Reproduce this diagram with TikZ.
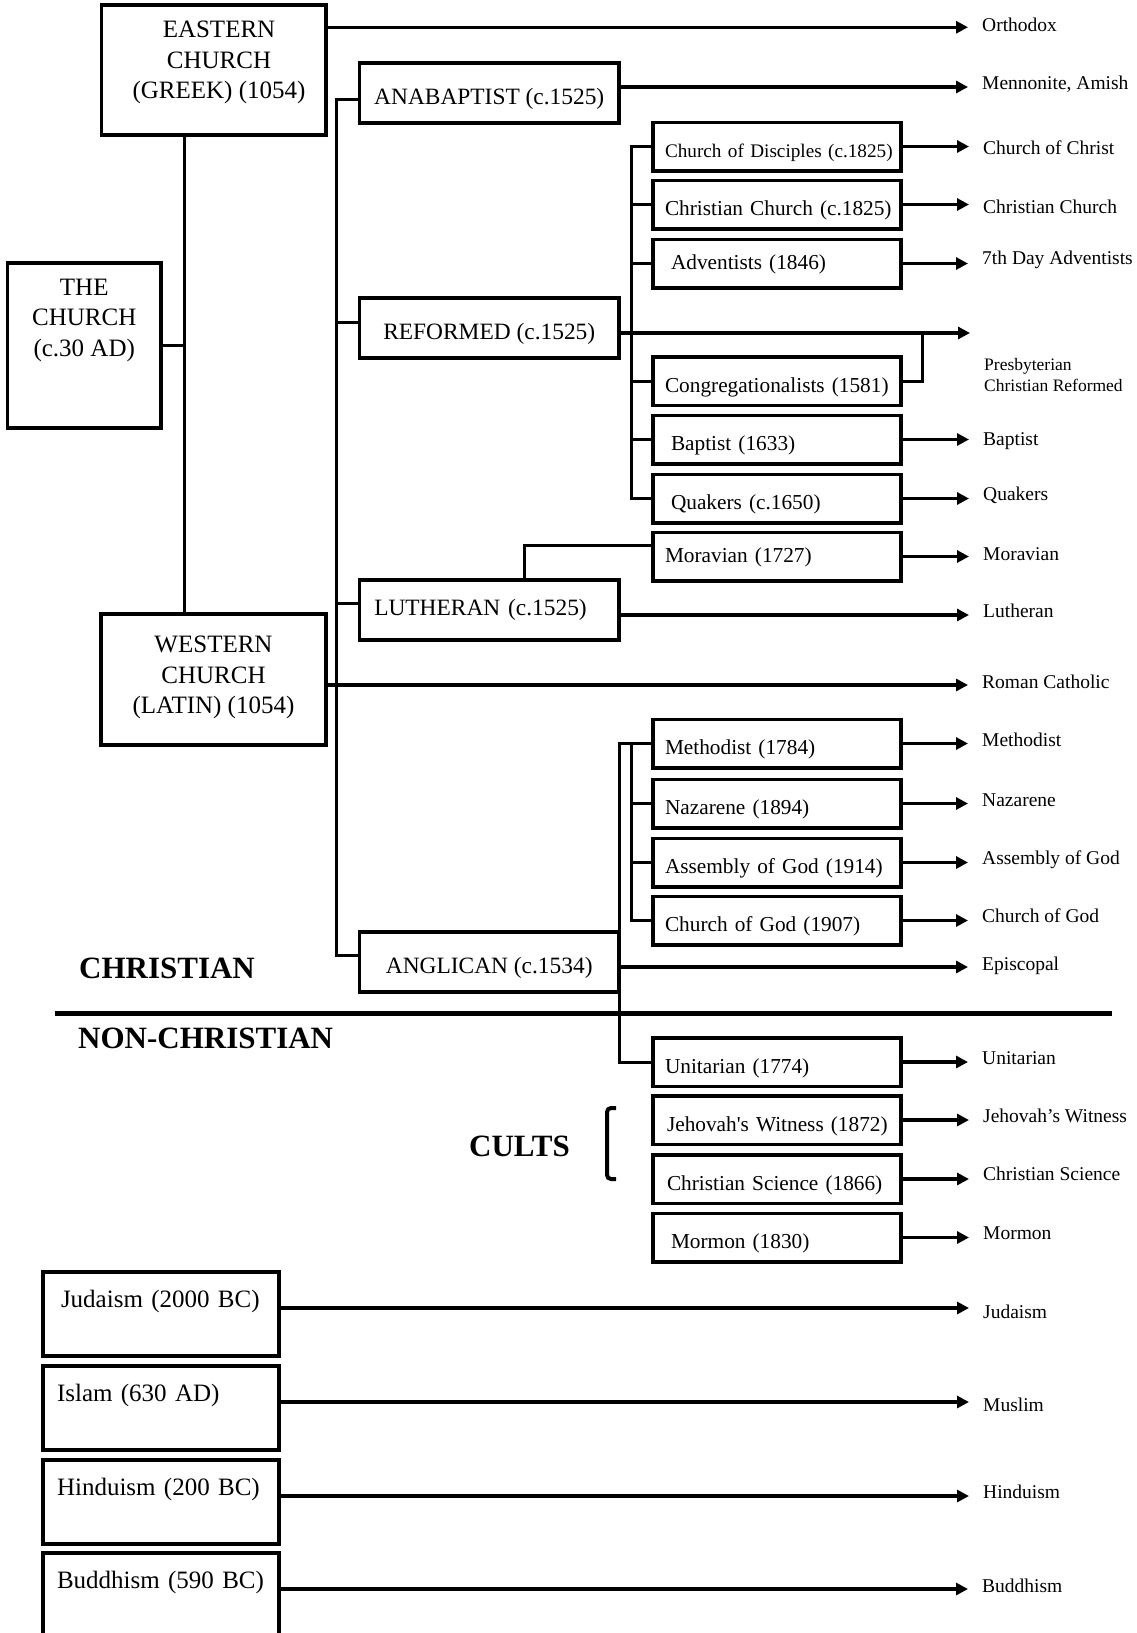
\documentclass[tikz,border=0pt]{standalone}
\usepackage{fontspec}
\setmainfont{Liberation Serif}
\usetikzlibrary{arrows.meta}

\begin{document}
\begin{tikzpicture}[x=1pt, y=-1pt,
box/.style={draw, line width=3.5pt, inner sep=0pt},
bigbox/.style={box, minimum width=225pt, minimum height=130pt},
bigtext/.style={align=center, inner sep=0pt, font=\fontsize{25}{30.5}\selectfont},
midbox/.style={box, minimum width=259.5pt, minimum height=60pt, text height=25.5pt, text depth=2pt, font=\fontsize{23.4}{28}\selectfont},
smallbox/.style={box, minimum width=248pt, minimum height=48.5pt, text width=224pt, align=left, text height=24pt, text depth=2pt, font=\fontsize{21.3}{25}\selectfont},
raised/.style={text height=14pt},
indented/.style={text width=212pt},
faithbox/.style={box, minimum width=236pt, minimum height=84pt, text width=208pt, align=left, text height=17pt, text depth=30pt, font=\fontsize{25}{30}\selectfont},
dest/.style={anchor=west, inner sep=0pt, text height=13pt, text depth=0pt, font=\fontsize{19.5}{23}\selectfont},
heading/.style={anchor=west, inner sep=0pt, text height=21pt, text depth=0pt, font=\fontsize{31}{36}\selectfont\bfseries},
tree/.style={line width=3pt},
arr/.style={line width=3.5pt, -{Triangle[length=12pt, width=12pt]}, shorten >=14pt}]%
\useasboundingbox (0,0) rectangle (1136,1633);%
\node[box, minimum width=153.5pt, minimum height=165pt] (church) at (84.25, 345.5) {};%
\node[bigtext] (churchtxt) at (84.25, 320) {THE\\CHURCH\\(c.30 AD)};%
\node[bigbox, minimum width=224.5pt] (east) at (213.75, 70) {};%
\node[bigtext] (easttxt) at (219, 62.5) {EASTERN\\CHURCH\\(GREEK) (1054)};%
\node[bigbox, minimum height=131pt] (west) at (213.5, 679.5) {};%
\node[bigtext] (westtxt) at (213.5, 677.5) {WESTERN\\CHURCH\\(LATIN) (1054)};%
\node[midbox] (anab) at (489.25, 93) {ANABAPTIST (c.1525)};%
\node[midbox] (ref) at (489.25, 328) {REFORMED (c.1525)};%
\node[midbox, text height=13.5pt, text width=230pt, align=left] (luth) at (489.25, 610) {LUTHERAN (c.1525)};%
\node[midbox] (angl) at (489.25, 962) {ANGLICAN (c.1534)};%
\node[smallbox, font=\fontsize{19.2}{23}\selectfont] (cod) at (777, 146.5) {\mbox{Church of Disciples (c.1825)}};%
\node[smallbox] (cc) at (777, 204.5) {\mbox{Christian Church (c.1825)}};%
\node[smallbox, indented, raised] (adv) at (777, 263.5) {Adventists (1846)};%
\node[smallbox] (cong) at (777, 381) {\mbox{Congregationalists (1581)}};%
\node[smallbox, indented] (bap) at (777, 439.5) {Baptist (1633)};%
\node[smallbox, indented] (quak) at (777, 498.5) {Quakers (c.1650)};%
\node[smallbox, raised] (morav) at (777, 556.5) {Moravian (1727)};%
\node[smallbox] (meth) at (777, 743.5) {Methodist (1784)};%
\node[smallbox] (naz) at (777, 803.5) {Nazarene (1894)};%
\node[smallbox] (asm) at (777, 862.5) {Assembly of God (1914)};%
\node[smallbox] (cog) at (777, 920.5) {Church of God (1907)};%
\node[smallbox] (unit) at (777, 1062) {Unitarian (1774)};%
\node[smallbox, text width=220pt] (jw) at (777, 1120) {\mbox{Jehovah\textquotesingle s Witness (1872)}};%
\node[smallbox, text width=220pt] (cs) at (777, 1179) {Christian Science (1866)};%
\node[smallbox, indented] (mor) at (777, 1237.5) {Mormon (1830)};%
\node[faithbox, text width=200pt] (jud) at (161, 1314) {Judaism (2000 BC)};%
\node[faithbox] (isl) at (161, 1408) {Islam (630 AD)};%
\node[faithbox] (hin) at (161, 1502) {Hinduism (200 BC)};%
\node[faithbox] (bud) at (161, 1595) {Buddhism (590 BC)};%
\node[dest] (orth) at (982, 25) {Orthodox};%
\node[dest] (menn) at (982, 83) {Mennonite, Amish};%
\node[dest] (cofc) at (983, 148) {Church of Christ};%
\node[dest] (ccl) at (983, 207) {Christian Church};%
\node[dest] (sda) at (982, 258) {7th Day Adventists};%
\node[anchor=west, inner sep=0pt, align=left, font=\fontsize{17.5}{20.5}\selectfont] (presb) at (984, 375) {Presbyterian\\Christian Reformed};%
\node[dest] (bapl) at (983, 439) {Baptist};%
\node[dest] (quakl) at (983, 494) {Quakers};%
\node[dest] (moravl) at (983, 554) {Moravian};%
\node[dest] (luthl) at (983, 611) {Lutheran};%
\node[dest] (rc) at (982, 682) {Roman Catholic};%
\node[dest] (methl) at (982, 740) {Methodist};%
\node[dest] (nazl) at (982, 800) {Nazarene};%
\node[dest] (asml) at (982, 858) {Assembly of God};%
\node[dest] (cogl) at (982, 916) {Church of God};%
\node[dest] (epis) at (982, 964) {Episcopal};%
\node[dest] (unitl) at (982, 1058) {Unitarian};%
\node[dest] (jwl) at (983, 1116) {Jehovah’s Witness};%
\node[dest] (csl) at (983, 1174) {Christian Science};%
\node[dest] (morl) at (983, 1233) {Mormon};%
\node[dest] (judl) at (983, 1312) {Judaism};%
\node[dest] (musl) at (983, 1405) {Muslim};%
\node[dest] (hinl) at (983, 1492) {Hinduism};%
\node[dest] (budl) at (982, 1586) {Buddhism};%
\node[heading] (christian) at (79, 968) {CHRISTIAN};%
\node[heading] (nonchristian) at (78, 1038) {NON-CHRISTIAN};%
\node[heading] (cults) at (469, 1146) {CULTS};%
\coordinate (spine) at (184.5, 345.5);%
\coordinate (trunk) at (336, 500);%
\coordinate (refspine) at (631, 300);%
\coordinate (congjoin) at (922.5, 333);%
\coordinate (luthjoin) at (524, 560);%
\coordinate (anglspine) at (619, 900);%
\coordinate (methspine) at (631, 900);%
\draw[tree] (east.south -| spine) -- (west.north -| spine);%
\draw[tree] (church.east) -- (spine);%
\draw[tree] ([yshift=-6pt]anab.west) -| (trunk) |- ([yshift=7pt]angl.west);%
\draw[tree] ([yshift=6pt]ref.west) -- ([yshift=6pt]ref.west -| trunk);%
\draw[tree] ([yshift=7pt]luth.west) -- ([yshift=7pt]luth.west -| trunk);%
\draw[tree] (cod.west) -| (refspine) |- (quak.west);%
\draw[tree] (cc.west) -- (cc.west -| refspine);%
\draw[tree] (adv.west) -- (adv.west -| refspine);%
\draw[tree] (cong.west) -- (cong.west -| refspine);%
\draw[tree] (bap.west) -- (bap.west -| refspine);%
\draw[tree] (cong.east) -| (congjoin);%
\draw[tree] (luth.north -| luthjoin) |- ([yshift=11.5pt]morav.west);%
\draw[tree] (meth.west) -| (anglspine) |- (unit.west);%
\draw[tree] (meth.west -| methspine) |- (cog.west);%
\draw[tree] (naz.west) -- (naz.west -| methspine);%
\draw[tree] (asm.west) -- (asm.west -| methspine);%
\draw[arr] ([yshift=-24pt]east.north east) -- ([yshift=-24pt]east.north east -| orth.west);%
\draw[arr] ([yshift=-5.5pt]west.east) -- ([yshift=-5.5pt]west.east -| rc.west);%
\draw[arr] ([yshift=6pt]anab.east) -- ([yshift=6pt]anab.east -| menn.west);%
\draw[arr] ([yshift=-5pt]ref.east) -- ([yshift=-5pt]ref.east -| presb.west);%
\draw[arr] ([yshift=-5pt]luth.east) -- ([yshift=-5pt]luth.east -| luthl.west);%
\draw[arr] ([yshift=-5pt]angl.east) -- ([yshift=-5pt]angl.east -| epis.west);%
\draw[arr] (cod.east) -- (cod.east -| cofc.west);%
\draw[arr] (cc.east) -- (cc.east -| ccl.west);%
\draw[arr] (adv.east) -- (adv.east -| sda.west);%
\draw[arr] (bap.east) -- (bap.east -| bapl.west);%
\draw[arr] (quak.east) -- (quak.east -| quakl.west);%
\draw[arr] (morav.east) -- (morav.east -| moravl.west);%
\draw[arr] (meth.east) -- (meth.east -| methl.west);%
\draw[arr] (naz.east) -- (naz.east -| nazl.west);%
\draw[arr] (asm.east) -- (asm.east -| asml.west);%
\draw[arr] (cog.east) -- (cog.east -| cogl.west);%
\draw[arr] (unit.east) -- (unit.east -| unitl.west);%
\draw[arr] (jw.east) -- (jw.east -| jwl.west);%
\draw[arr] (cs.east) -- (cs.east -| csl.west);%
\draw[arr] (mor.east) -- (mor.east -| morl.west);%
\draw[arr] ([yshift=6pt]jud.east) -- ([yshift=6pt]jud.east -| judl.west);%
\draw[arr] ([yshift=6pt]isl.east) -- ([yshift=6pt]isl.east -| musl.west);%
\draw[arr] ([yshift=6pt]hin.east) -- ([yshift=6pt]hin.east -| hinl.west);%
\draw[arr] ([yshift=6pt]bud.east) -- ([yshift=6pt]bud.east -| budl.west);%
\draw[line width=5pt] (55, 1013) -- (1112, 1013);%
\draw[line width=4pt, rounded corners=4pt] (616, 1108) -- (607, 1108) -- (607, 1179) -- (616, 1179);%
\end{tikzpicture}
\end{document}
